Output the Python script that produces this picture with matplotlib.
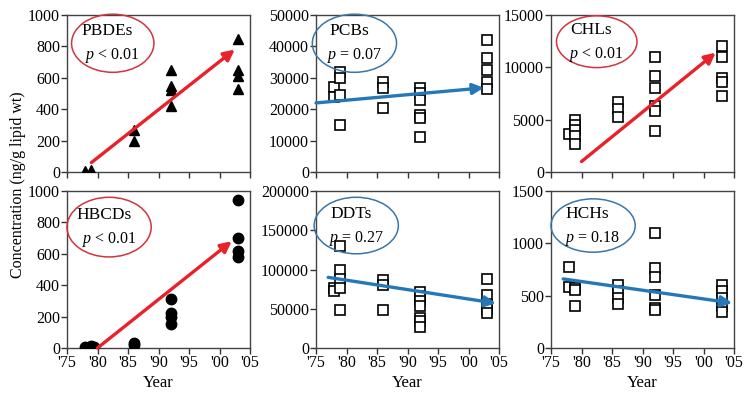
import matplotlib
matplotlib.use("Agg")
import matplotlib.pyplot as plt
from matplotlib.patches import Ellipse

plt.rcParams['font.family'] = ['Liberation Serif', 'DejaVu Serif']
plt.rcParams['mathtext.fontset'] = 'custom'
plt.rcParams['mathtext.it'] = 'Liberation Serif:italic'
plt.rcParams['mathtext.rm'] = 'Liberation Serif'

# ---------------- data ----------------
pbde_x = [78, 79, 86, 86, 92, 92, 92, 92, 103, 103, 103, 103]
pbde_y = [5, 10, 265, 200, 650, 550, 520, 420, 850, 650, 610, 530]
pbde_trend = [(79, 60), (102.5, 780)]

pcb_x = [78, 78, 79, 79, 79, 79, 86, 86, 86, 92, 92, 92, 92, 92, 92, 103, 103, 103, 103, 103]
pcb_y = [27000, 24000, 32000, 30000, 24500, 15000, 28700, 26800, 20400,
         26800, 25200, 22900, 18200, 17200, 11200, 42000, 36300, 32500, 28700, 26500]
pcb_trend = [(75, 22000), (102.5, 26800)]

chl_x = [78, 79, 79, 79, 79, 79, 86, 86, 86, 92, 92, 92, 92, 92, 92, 103, 103, 103, 103, 103]
chl_y = [3600, 5000, 4500, 4000, 3400, 2700, 6700, 6000, 5300,
         11000, 9200, 8000, 6300, 5800, 3900, 12000, 11000, 9000, 8600, 7300]
chl_trend = [(80, 1000), (102, 11400)]

hbcd_x = [78, 79, 79.5, 86, 86, 92, 92, 92, 92, 103, 103, 103, 103]
hbcd_y = [5, 10, 8, 35, 20, 310, 220, 200, 150, 940, 700, 620, 580]
hbcd_trend = [(80, 0), (102, 680)]

ddt_x = [78, 78, 79, 79, 79, 79, 79, 86, 86, 86, 92, 92, 92, 92, 92, 92, 92, 103, 103, 103, 103, 103]
ddt_y = [77000, 73000, 130000, 100000, 88000, 77000, 48000, 86000, 80000, 48000,
         71000, 66000, 60000, 54000, 38000, 34000, 27000, 88000, 68000, 56000, 50000, 44000]
ddt_trend = [(77, 90000), (104.5, 57000)]

hch_x = [78, 78, 79, 79, 79, 86, 86, 86, 86, 92, 92, 92, 92, 92, 92, 103, 103, 103, 103, 103]
hch_y = [770, 580, 570, 550, 400, 600, 540, 480, 420,
         1100, 760, 680, 510, 380, 360, 600, 540, 480, 400, 340]
hch_trend = [(77, 660), (104.7, 430)]

names = ['PBDEs', 'PCBs', 'CHLs', 'HBCDs', 'DDTs', 'HCHs']
pvals = ['< 0.01', '= 0.07', '< 0.01', '< 0.01', '= 0.27', '= 0.18']
year_ticks = [75, 80, 85, 90, 95, 100, 105]
year_labels = ["'75", "'80", "'85", "'90", "'95", "'00", "'05"]
yticks_list = [[0, 200, 400, 600, 800, 1000],
               [0, 10000, 20000, 30000, 40000, 50000],
               [0, 5000, 10000, 15000],
               [0, 200, 400, 600, 800, 1000],
               [0, 50000, 100000, 150000, 200000],
               [0, 500, 1000, 1500]]

RED = '#e8212b'
BLUE = '#2478b8'
ERED = '#d2343c'
EBLUE = '#3a76a6'

panels = [
    (pbde_x, pbde_y, pbde_trend, '^', True, RED, ERED),
    (pcb_x, pcb_y, pcb_trend, 's', False, BLUE, EBLUE),
    (chl_x, chl_y, chl_trend, 's', False, RED, ERED),
    (hbcd_x, hbcd_y, hbcd_trend, 'o', True, RED, ERED),
    (ddt_x, ddt_y, ddt_trend, 's', False, BLUE, EBLUE),
    (hch_x, hch_y, hch_trend, 's', False, BLUE, EBLUE),
]

ell = [(0.25, 0.82, 0.45, 0.37), (0.21, 0.82, 0.46, 0.37), (0.25, 0.83, 0.44, 0.33),
       (0.23, 0.77, 0.46, 0.38), (0.22, 0.78, 0.46, 0.36), (0.23, 0.78, 0.46, 0.34)]

fig = plt.figure(figsize=(7.48, 4.01), dpi=100)
lefts = [67, 316, 551]
W, H = 748.0, 401.0
aw = 183 / W
ah = 157 / H
bottoms = [1 - 172 / H, 1 - 348 / H]

for i, (xs, ys, tr, mk, filled, col, ecol) in enumerate(panels):
    r, c = divmod(i, 3)
    ax = fig.add_axes([lefts[c] / W, bottoms[r], aw, ah])
    yt = yticks_list[i]
    if filled:
        ax.plot(xs, ys, linestyle='none', marker=mk, ms=7.5, color='black', zorder=3)
    else:
        ax.plot(xs, ys, linestyle='none', marker=mk, ms=6.5, mfc='white', mec='black',
                mew=1.2, zorder=3)
    ax.annotate('', xy=tr[1], xytext=tr[0],
                arrowprops=dict(arrowstyle='-|>', color=col, lw=2.4,
                                mutation_scale=16, shrinkA=0, shrinkB=0), zorder=4)
    ax.set_xlim(75, 105)
    ax.set_ylim(yt[0], yt[-1])
    ax.set_xticks(year_ticks)
    ax.set_yticks(yt)
    ax.set_yticklabels([str(v) for v in yt])
    if r == 0:
        ax.set_xticklabels([])
    else:
        ax.set_xticklabels(year_labels)
        ax.set_xlabel('Year', fontsize=12, labelpad=3)
    ax.tick_params(direction='out', length=4, width=1, labelsize=11.5, pad=1, color='#333333')
    for s in ax.spines.values():
        s.set_color('#444444')
        s.set_linewidth(1.0)
    cx, cy, ew, eh = ell[i]
    ax.add_patch(Ellipse((cx, cy), ew, eh, transform=ax.transAxes, fill=False,
                         edgecolor=ecol, lw=1.1, zorder=5, clip_on=False))
    ax.text(cx - 0.03, cy + 0.075, names[i], transform=ax.transAxes, ha='center',
            va='center', fontsize=12.5, zorder=6)
    ax.text(cx + 0.0, cy - 0.08, r'$p$ ' + pvals[i], transform=ax.transAxes, ha='center',
            va='center', fontsize=11.5, zorder=6)

fig.text(18 / W, 1 - 185 / H, 'Concentration (ng/g lipid wt)', rotation=90,
         ha='center', va='center', fontsize=11.5)

fig.savefig('out.png', dpi=100)
